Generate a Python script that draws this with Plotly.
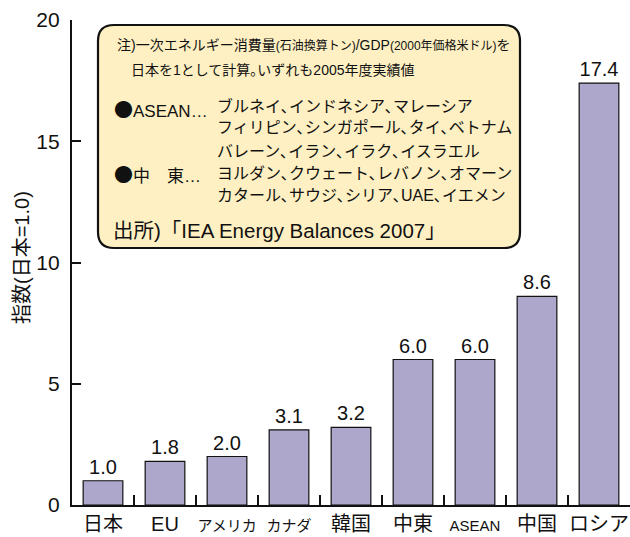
import plotly.graph_objects as go

categories = ["日本", "EU", "アメリカ", "カナダ", "韓国", "中東", "ASEAN", "中国", "ロシア"]
values = [1.0, 1.8, 2.0, 3.1, 3.2, 6.0, 6.0, 8.6, 17.4]
y_ticks = [0, 5, 10, 15, 20]
small_labels = {"アメリカ", "カナダ", "ASEAN"}

W, H = 630, 537
ML, MR, MT, MB = 72, 0, 20, 32
PW, PH = W - ML - MR, H - MT - MB

def px(x):
    return (x - ML) / PW

def py(y):
    return (H - MB - y) / PH

FONT = "Liberation Sans, Arial, Noto Sans CJK JP, sans-serif"

ticktext = [
    f'<span style="font-size:15px">{c}</span>' if c in small_labels else c
    for c in categories
]

fig = go.Figure(
    go.Bar(
        x=categories,
        y=values,
        marker=dict(color="#aca7cb", line=dict(color="#111111", width=1.2)),
        width=0.64,
        texttemplate="%{y:.1f}",
        textposition="outside",
        textfont=dict(size=20, color="#111111", family=FONT),
        cliponaxis=False,
    )
)

# rounded annotation box
x0, x1, y0, y1, r = 98, 520, 25, 248, 16
rx, ry = r / PW, r / PH
X0, X1, Y0, Y1 = px(x0), px(x1), py(y1), py(y0)
path = (
    f"M {X0+rx},{Y1} L {X1-rx},{Y1} Q {X1},{Y1} {X1},{Y1-ry} "
    f"L {X1},{Y0+ry} Q {X1},{Y0} {X1-rx},{Y0} "
    f"L {X0+rx},{Y0} Q {X0},{Y0} {X0},{Y0+ry} "
    f"L {X0},{Y1-ry} Q {X0},{Y1} {X0+rx},{Y1} Z"
)
fig.add_shape(type="path", path=path, xref="paper", yref="paper",
              fillcolor="#fef0c2", line=dict(color="#111111", width=2.2), layer="above")

JP = "Liberation Sans, Noto Sans CJK JP, sans-serif"
DOT = '<span style="font-family:Noto Sans CJK JP;font-size:19px">●</span>'
lines = [
    (115, 45, '注)一次エネルギー消費量<span style="font-size:12px">(石油換算トン)</span>/GDP<span style="font-size:12px">(2000年価格米ドル)</span>を', 14),
    (129, 70, "日本を1として計算｡いずれも2005年度実績値", 14),
    (112, 108, DOT + "ASEAN…", 17),
    (215, 106, "ブルネイ､インドネシア､マレーシア", 16),
    (215, 127, "フィリピン､シンガポール､タイ､ベトナム", 16),
    (215, 151, "バレーン､イラン､イラク､イスラエル", 16),
    (112, 173, DOT + "中　東…", 17),
    (215, 173, "ヨルダン､クウェート､レバノン､オマーン", 16),
    (215, 195, "カタール､サウジ､シリア､UAE､イエメン", 16),
    (111, 230, "出所)「IEA Energy Balances 2007」", 20.5),
]
for (lx, ly, t, s) in lines:
    fig.add_annotation(x=px(lx), y=py(ly), xref="paper", yref="paper", text=t,
                       showarrow=False, xanchor="left", yanchor="middle",
                       font=dict(size=s, color="#111111", family=JP))

# y-axis title
fig.add_annotation(x=px(22), y=py(258), xref="paper", yref="paper",
                   text="指数(日本=1.0)", textangle=-90, showarrow=False,
                   xanchor="center", yanchor="middle",
                   font=dict(size=20, color="#111111", family=JP))

fig.update_layout(
    width=W, height=H,
    margin=dict(l=ML, r=MR, t=MT, b=MB, pad=0),
    paper_bgcolor="white", plot_bgcolor="white",
    showlegend=False,
    bargap=0.36,
    font=dict(family=FONT, color="#111111"),
)
fig.update_xaxes(
    type="category", range=[-0.5, 8.5],
    tickmode="array", tickvals=categories, ticktext=ticktext, tickangle=0,
    tickfont=dict(size=20, family="Liberation Sans, Noto Sans CJK JP, sans-serif", color="#111111"),
    ticks="inside", tickson="boundaries", ticklen=10, tickwidth=2, tickcolor="#111111",
    showline=True, linecolor="#111111", linewidth=2.2,
    showgrid=False, zeroline=False, automargin=False,
)
fig.update_yaxes(
    range=[0, 20], tickvals=y_ticks,
    tickfont=dict(size=21, family=FONT, color="#111111"),
    ticks="inside", ticklen=9, tickwidth=2, tickcolor="#111111",
    showline=True, linecolor="#111111", linewidth=2.2,
    showgrid=False, zeroline=False, automargin=False, ticklabelstandoff=6,
)

fig.write_html("out.html")
